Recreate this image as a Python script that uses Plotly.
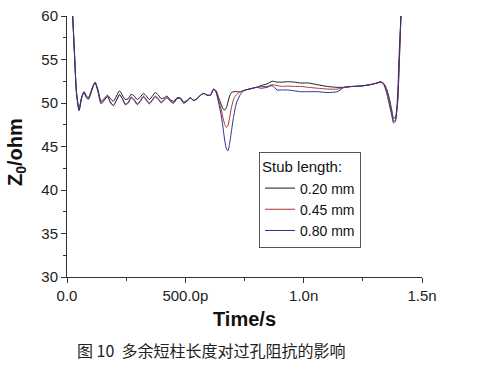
import plotly.graph_objects as go

# time in ps
t_ps = [24, 32, 40, 51, 62, 72, 82, 90, 100, 110, 119, 131, 144, 157, 171, 184, 196, 209, 222, 234,
        246, 259, 271, 284, 297, 310, 323, 335, 348, 361, 373, 386, 398, 410, 422, 436, 450, 465, 479, 493,
        507, 521, 535, 550, 564, 578, 592, 606, 620, 630, 641, 652, 660, 667, 674, 680, 687, 695, 705, 717,
        733, 745, 754, 770, 785, 800, 820, 845, 867, 888, 910, 931, 960, 987, 1020, 1058, 1100, 1143, 1171, 1205,
        1241, 1280, 1310, 1326, 1340, 1352, 1362, 1372, 1380, 1388, 1397, 1404, 1411]

z_020 = [60, 55.5, 51.3, 49.3, 50.7, 51.3, 50.8, 50.6, 51.2, 52.0, 52.4, 51.5, 50.2, 50.5, 50.9, 50.5, 50.2, 50.8, 51.4, 50.9,
         50.4, 50.5, 51.0, 50.8, 50.4, 50.7, 51.1, 50.8, 50.4, 50.8, 51.2, 50.9, 50.5, 50.6, 50.8, 50.4, 50.2, 50.6, 50.6, 50.1,
         50.3, 50.6, 50.3, 50.5, 50.9, 51.1, 50.9, 50.9, 51.6, 51.4, 50.6, 49.8, 49.3, 49.2, 49.5, 50.1, 50.8, 51.2, 51.3, 51.3,
         51.3, 51.4, 51.5, 51.6, 51.7, 51.8, 52.0, 52.2, 52.5, 52.4, 52.4, 52.45, 52.4, 52.3, 52.3, 52.1, 51.9, 51.8, 51.8, 51.9,
         51.95, 52.1, 52.3, 52.45, 52.2, 51.5, 50.5, 49.2, 48.2, 48.4, 50.0, 54.5, 60]

z_045 = [60, 55.5, 51.2, 49.2, 50.6, 51.2, 50.7, 50.5, 51.1, 51.9, 52.3, 51.3, 50.0, 50.3, 50.7, 50.0, 49.7, 50.3, 50.9, 50.5,
         49.9, 50.1, 50.7, 50.4, 49.9, 50.3, 50.8, 50.4, 50.0, 50.4, 50.8, 50.5, 50.1, 50.4, 50.7, 50.3, 50.0, 50.5, 50.5, 50.0,
         50.2, 50.6, 50.3, 50.5, 50.9, 51.1, 50.9, 50.9, 51.6, 51.3, 50.3, 49.2, 48.2, 47.5, 47.2, 47.4, 48.3, 49.5, 50.5, 51.0,
         51.3, 51.4, 51.5, 51.6, 51.7, 51.8, 51.9, 51.9, 52.1, 52.0, 51.9, 51.95, 51.9, 51.9, 51.8, 51.7, 51.6, 51.6, 51.8, 51.9,
         51.95, 52.1, 52.3, 52.45, 52.2, 51.3, 50.2, 49.0, 47.9, 48.1, 50.2, 55.0, 60]

z_080 = [60, 55.4, 51.1, 49.1, 50.6, 51.2, 50.6, 50.4, 51.0, 51.9, 52.3, 51.3, 49.9, 50.3, 50.8, 50.1, 49.7, 50.3, 51.0, 50.5,
         49.8, 50.0, 50.6, 50.3, 49.8, 50.2, 50.7, 50.3, 49.9, 50.3, 50.7, 50.4, 50.0, 50.3, 50.6, 50.2, 50.0, 50.5, 50.5, 50.0,
         50.2, 50.6, 50.3, 50.5, 50.9, 51.1, 50.9, 50.9, 51.6, 51.2, 50.0, 48.5, 47.0, 45.6, 44.7, 44.5, 45.3, 46.8, 48.6, 50.1,
         51.0, 51.4, 51.5, 51.6, 51.7, 51.8, 51.7, 51.8, 52.0, 51.5, 51.5, 51.5, 51.4, 51.3, 51.3, 51.3, 51.2, 51.3, 51.8, 51.9,
         51.95, 52.1, 52.3, 52.4, 52.0, 51.0, 49.8, 48.6, 47.7, 47.9, 51.0, 56.0, 60]

series_names = ["0.20 mm", "0.45 mm", "0.80 mm"]
series_colors = ["#1a1a1a", "#b0342c", "#2b2f8f"]
x_tickvals = [0, 500, 1000, 1500]
x_ticktext = ["0.0", "500.0p", "1.0n", "1.5n"]
caption = "图 10  多余短柱长度对过孔阻抗的影响"

fig = go.Figure()
for name, ys, col in zip(series_names, [z_020, z_045, z_080], series_colors):
    fig.add_trace(go.Scatter(x=t_ps, y=ys, mode="lines", name=name,
                             line=dict(color=col, width=1, shape="spline", smoothing=0.6)))

axis_font = dict(family="Liberation Sans, Arial, sans-serif", size=15, color="#222")
fig.update_layout(
    width=477, height=367,
    margin=dict(l=67, r=55, t=16, b=90),
    paper_bgcolor="white", plot_bgcolor="white",
    font=dict(family="Liberation Sans, Arial, sans-serif", color="#222"),
    showlegend=True,
    legend=dict(
        x=0.541, y=0.479, xanchor="left", yanchor="top",
        bordercolor="#555", borderwidth=1, bgcolor="white",
        font=dict(size=14, color="#111"),
        title=dict(text="Stub length: ", font=dict(size=15, color="#111")),
        tracegroupgap=0,
    ),
    xaxis=dict(
        range=[0, 1500], tickmode="array", tickvals=x_tickvals, ticktext=x_ticktext,
        ticks="outside", ticklen=5, tickcolor="#333", showline=True, linecolor="#333", linewidth=1,
        showgrid=False, zeroline=False, tickfont=axis_font, automargin=False,
        minor=dict(tickmode="array", tickvals=[250, 750, 1250], ticks="outside", ticklen=3, tickcolor="#333"),
        title=dict(text="<b>Time/s</b>", font=dict(size=20, color="#111"), standoff=8),
    ),
    yaxis=dict(
        range=[30, 60], dtick=5, tick0=30,
        ticks="outside", ticklen=5, tickcolor="#333", showline=True, linecolor="#333", linewidth=1,
        showgrid=False, zeroline=False, tickfont=axis_font, automargin=False,
        minor=dict(dtick=2.5, ticks="outside", ticklen=3, tickcolor="#333"),
    ),
)

fig.add_annotation(text="<b>Z<sub>0</sub>/ohm</b>", xref="paper", yref="paper",
                   x=(16 - 67) / 355, y=(277 - 152) / 261, textangle=-90,
                   xanchor="center", yanchor="middle", showarrow=False,
                   font=dict(family="Liberation Sans, Arial, sans-serif", size=20, color="#111"))

fig.add_annotation(text=caption, xref="paper", yref="paper", x=(211 - 67) / 355, y=-(350 - 277) / 261,
                   xanchor="center", yanchor="middle", showarrow=False,
                   font=dict(family="Noto Sans CJK SC", size=16, color="#222"))

fig.write_html("out.html", config={"displayModeBar": False},
               post_script="document.body.style.margin='0';")
